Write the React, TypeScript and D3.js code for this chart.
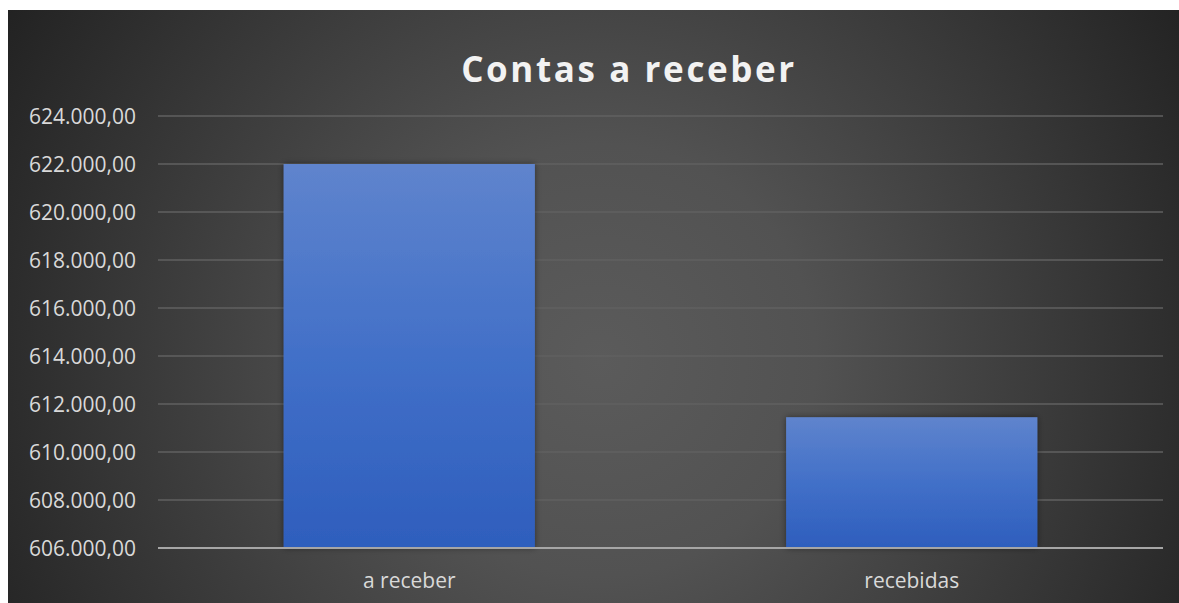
import React from 'react';
import * as d3 from 'd3';

const categories = ['a receber', 'recebidas'];
const values = [622000, 611450];
const yTicks = [606000, 608000, 610000, 612000, 614000, 616000, 618000, 620000, 622000, 624000];
const title = 'Contas a receber';

const W = 1179;
const H = 603;
const frame = { x: 8, y: 10 };
const plot = { left: 158, right: 1163, top: 116, bottom: 548 };

const fmt = (v: number) =>
  d3.format(',.2f')(v).replace(/,/g, '#').replace('.', ',').replace(/#/g, '.');

export default function App() {
  const x = d3.scaleBand<string>()
    .domain(categories)
    .range([plot.left, plot.right])
    .paddingInner(0.5)
    .paddingOuter(0.25);

  const y = d3.scaleLinear()
    .domain([606000, 624000])
    .range([plot.bottom, plot.top]);

  const font = '"Open Sans", "Noto Sans", sans-serif';

  return (
    <div style={{ position: 'absolute', left: 0, top: 0 }}>
      <svg width={W} height={H} style={{ display: 'block', background: '#fff' }}>
        <defs>
          <radialGradient id="bg" gradientUnits="userSpaceOnUse" cx={600} cy={360} r={720}>
            <stop offset="0%" stopColor="#5b5b5b" />
            <stop offset="30%" stopColor="#525252" />
            <stop offset="100%" stopColor="#1f1f1f" />
          </radialGradient>
          <linearGradient id="bar" x1="0" y1="0" x2="0" y2="1">
            <stop offset="0%" stopColor="#5f84cd" />
            <stop offset="50%" stopColor="#4270c8" />
            <stop offset="100%" stopColor="#2e5ebd" />
          </linearGradient>
          <filter id="shadow" x="-10%" y="-10%" width="120%" height="120%">
            <feDropShadow dx="0" dy="0" stdDeviation="3" floodColor="#000" floodOpacity="0.45" />
          </filter>
        </defs>

        <rect x={frame.x} y={frame.y} width={W - frame.x} height={H - frame.y} fill="url(#bg)" />

        <text
          x={629}
          y={82}
          textAnchor="middle"
          fill="#f2f2f2"
          fontFamily={font}
          fontWeight={700}
          fontSize={35}
          letterSpacing={2.6}
        >
          {title}
        </text>

        {yTicks.map((t) => (
          <g key={t}>
            {t !== 606000 && (
              <line x1={plot.left} x2={plot.right} y1={y(t)} y2={y(t)} stroke="#616161" strokeWidth={1.5} />
            )}
            <text
              x={136}
              y={y(t)}
              dy="0.36em"
              textAnchor="end"
              fill="#d9d9d9"
              fontFamily={font}
              fontSize={21}
            >
              {fmt(t)}
            </text>
          </g>
        ))}

        {categories.map((c, i) => (
          <rect
            key={c}
            x={x(c)}
            y={y(values[i])}
            width={x.bandwidth()}
            height={y(606000) - y(values[i])}
            fill="url(#bar)"
            filter="url(#shadow)"
          />
        ))}

        <line x1={plot.left} x2={plot.right} y1={plot.bottom} y2={plot.bottom} stroke="#a6a6a6" strokeWidth={2} />

        {categories.map((c) => (
          <text
            key={c}
            x={(x(c) ?? 0) + x.bandwidth() / 2}
            y={588}
            textAnchor="middle"
            fill="#d9d9d9"
            fontFamily={font}
            fontSize={21}
          >
            {c}
          </text>
        ))}
      </svg>
    </div>
  );
}
